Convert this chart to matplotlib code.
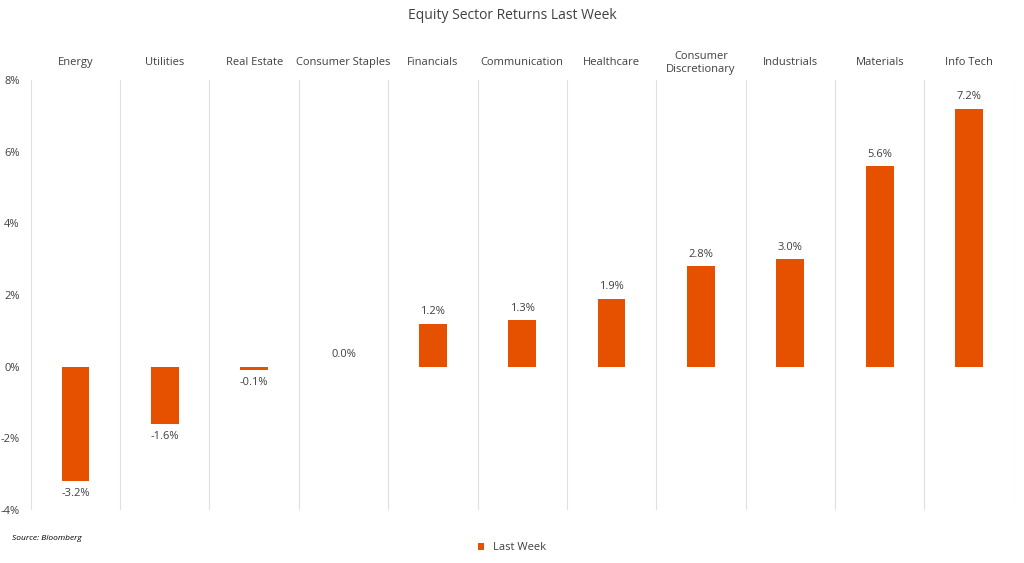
import numpy as np
import matplotlib.pyplot as plt

plt.rcParams['font.family'] = ['Open Sans', 'DejaVu Sans']

sectors = ['Energy', 'Utilities', 'Real Estate', 'Consumer Staples', 'Financials',
           'Communication', 'Healthcare', 'Consumer\nDiscretionary', 'Industrials',
           'Materials', 'Info Tech']
returns = [-3.2, -1.6, -0.1, 0.0, 1.2, 1.3, 1.9, 2.8, 3.0, 5.6, 7.2]

fig = plt.figure(figsize=(10.24, 5.63), dpi=100)
ax = fig.add_axes([0.030, 0.094, 0.960, 0.764])

x = np.arange(len(sectors))
bars = ax.bar(x, returns, width=0.31, color='#E65100', label='Last Week')

ax.set_xlim(-0.5, len(sectors) - 0.5)
ax.set_ylim(-4, 8)
ax.set_yticks(range(-4, 9, 2))
ax.set_yticklabels([f'{v}%' for v in range(-4, 9, 2)], fontsize=8, color='#404040')
ax.tick_params(axis='y', length=0, pad=8)
ax.set_xticks([])

for b in np.arange(-0.5, len(sectors), 1.0):
    ax.axvline(b, color='#e0e0e0', lw=0.8, zorder=0)
for s in ax.spines.values():
    s.set_visible(False)

for xi, v in zip(x, returns):
    off = 0.18 if v >= 0 else -0.18
    ax.text(xi, v + off, f'{v:.1f}%', ha='center', va='bottom' if v >= 0 else 'top',
            fontsize=8, color='#404040')

for xi, name in zip(x, sectors):
    ax.text(xi, 1.04, name, transform=ax.get_xaxis_transform(), ha='center', va='center',
            fontsize=8, color='#404040')

fig.text(0.5, 0.972, 'Equity Sector Returns Last Week', ha='center', va='center',
         fontsize=10, color='#404040')
fig.text(0.012, 0.040, 'Source: Bloomberg', fontsize=6, style='italic', color='black')
fig.legend(loc='center', bbox_to_anchor=(0.5, 0.027), frameon=False, fontsize=8,
           handlelength=0.6, handleheight=0.6, labelcolor='#404040')

fig.savefig('out.png', dpi=100)
